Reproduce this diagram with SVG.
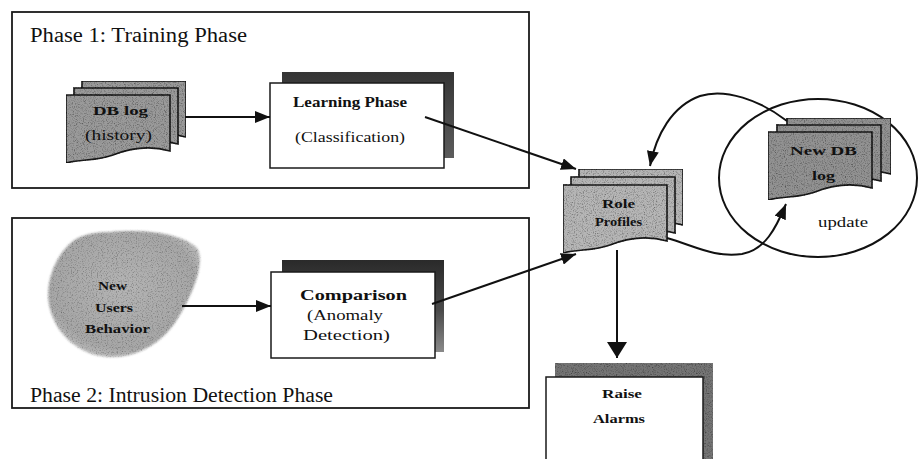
<svg xmlns="http://www.w3.org/2000/svg" xmlns:xlink="http://www.w3.org/1999/xlink" width="918" height="459" viewBox="0 0 918 459">
  <style>
    text { font-family: "Liberation Serif", "Times New Roman", serif; fill: #111; }
    .ph { font-size: 20px; }
    .lb { font-size: 15px; font-weight: bold; }
    .rg { font-size: 15px; }
    .sb { font-size: 13px; font-weight: bold; }
    .frame { fill: none; stroke: #1a1a1a; stroke-width: 1.8; }
    .card { fill: #ffffff; stroke: #1a1a1a; stroke-width: 1.5; }
    .doc { stroke: #1a1a1a; stroke-width: 1.6; }
    .docA { fill: #9a9a9a; }
    .docB { fill: #b6b6b6; }
    .docC { fill: #929292; }
    .wire { fill: none; stroke: #111; stroke-width: 2; }
  </style>
  <defs>
    <!-- paper-like stipple laid over grey fills -->
    <filter id="grain" x="0" y="0" width="100%" height="100%">
      <feTurbulence type="fractalNoise" baseFrequency="0.9" numOctaves="2" seed="4" result="n"/>
      <feColorMatrix in="n" type="matrix" values="0 0 0 0 0  0 0 0 0 0  0 0 0 0 0  1.8 0 0 0 -0.85" result="dots"/>
      <feComposite in="dots" in2="SourceGraphic" operator="in" result="d2"/>
      <feMerge><feMergeNode in="SourceGraphic"/><feMergeNode in="d2"/></feMerge>
    </filter>
    <!-- soft speckled edge for the behaviour blob -->
    <filter id="soft" x="-5%" y="-5%" width="110%" height="110%">
      <feGaussianBlur in="SourceGraphic" stdDeviation="1.2" result="b"/>
      <feTurbulence type="fractalNoise" baseFrequency="0.8" numOctaves="2" seed="9" result="n"/>
      <feColorMatrix in="n" type="matrix" values="0 0 0 0 0  0 0 0 0 0  0 0 0 0 0  1.6 0 0 0 -0.8" result="dots"/>
      <feComposite in="dots" in2="b" operator="in" result="d2"/>
      <feMerge><feMergeNode in="b"/><feMergeNode in="d2"/></feMerge>
    </filter>
    <!-- document sheet with wavy bottom edge -->
    <path id="sheet" d="M0,0 H104 V56 C83,50 62,54 47,60 C31,66 16,64 0,68 Z"/>
    <linearGradient id="shadeL" x1="0" y1="0" x2="0" y2="1">
      <stop offset="0" stop-color="#353535"/>
      <stop offset="1" stop-color="#5c5c5c"/>
    </linearGradient>
    <linearGradient id="shadeC" x1="0" y1="0" x2="0" y2="1">
      <stop offset="0" stop-color="#2a2a2a"/>
      <stop offset="0.55" stop-color="#4a4a4a"/>
      <stop offset="1" stop-color="#8a8a8a"/>
    </linearGradient>
    <radialGradient id="blobFill" cx="0.5" cy="0.45" r="0.6">
      <stop offset="0" stop-color="#b4b4b4"/>
      <stop offset="0.8" stop-color="#a6a6a6"/>
      <stop offset="1" stop-color="#c0c0c0"/>
    </radialGradient>
    <marker id="ah" viewBox="0 0 15 12" refX="15" refY="6" markerWidth="15" markerHeight="12" markerUnits="userSpaceOnUse" orient="auto">
      <path d="M0,0 L15,6 L0,12 Z" fill="#111"/>
    </marker>
    <marker id="ahBig" viewBox="0 0 16 20" refX="16" refY="10" markerWidth="16" markerHeight="20" markerUnits="userSpaceOnUse" orient="auto">
      <path d="M0,0 L16,10 L0,20 Z" fill="#111"/>
    </marker>
  </defs>

  <rect width="918" height="459" fill="#ffffff"/>

  <!-- phase frames -->
  <g id="phase1">
    <rect class="frame" x="12" y="12" width="517" height="176"/>
    <text class="ph" x="30" y="42" textLength="217" lengthAdjust="spacingAndGlyphs">Phase 1: Training Phase</text>
  </g>
  <g id="phase2">
    <rect class="frame" x="12" y="218" width="517" height="190"/>
    <text class="ph" x="30" y="402" textLength="303" lengthAdjust="spacingAndGlyphs">Phase 2: Intrusion Detection Phase</text>
  </g>

  <!-- DB log (history) stack -->
  <g id="db-log">
    <g filter="url(#grain)">
      <use href="#sheet" class="doc docA" x="82" y="81"/>
      <use href="#sheet" class="doc docA" x="74" y="88"/>
      <use href="#sheet" class="doc docA" x="66" y="95"/>
    </g>
    <text class="sb" x="93" y="115" textLength="55" lengthAdjust="spacingAndGlyphs">DB log</text>
    <text class="rg" x="85" y="140" textLength="67" lengthAdjust="spacingAndGlyphs">(history)</text>
  </g>

  <!-- Learning Phase -->
  <g id="learning-phase">
    <rect x="282" y="72" width="172" height="86" fill="url(#shadeL)"/>
    <rect class="card" x="270" y="83" width="174" height="85"/>
    <text class="lb" x="293" y="107" textLength="114" lengthAdjust="spacingAndGlyphs">Learning Phase</text>
    <text class="rg" x="295" y="142" textLength="110" lengthAdjust="spacingAndGlyphs">(Classification)</text>
  </g>

  <!-- New Users Behavior -->
  <g id="new-users-behavior">
    <path d="M110,232 C140,229 180,232 197,248 C206,262 192,296 178,318 C165,340 140,358 110,357 C80,356 55,335 49,305 C44,275 62,245 80,237 C90,233 100,232 110,232 Z" fill="url(#blobFill)" filter="url(#soft)"/>
    <text class="sb" x="98" y="290" textLength="29" lengthAdjust="spacingAndGlyphs">New</text>
    <text class="sb" x="95" y="312" textLength="38" lengthAdjust="spacingAndGlyphs">Users</text>
    <text class="sb" x="85" y="333" textLength="65" lengthAdjust="spacingAndGlyphs">Behavior</text>
  </g>

  <!-- Comparison -->
  <g id="comparison">
    <rect x="282" y="260" width="162" height="92" fill="url(#shadeC)"/>
    <rect class="card" x="271" y="272" width="164" height="86"/>
    <text class="lb" x="300" y="300" textLength="107" lengthAdjust="spacingAndGlyphs">Comparison</text>
    <text class="rg" x="307" y="320" textLength="76" lengthAdjust="spacingAndGlyphs">(Anomaly</text>
    <text class="rg" x="303" y="340" textLength="87" lengthAdjust="spacingAndGlyphs">Detection)</text>
  </g>

  <!-- update loop -->
  <g id="update-loop">
    <ellipse cx="818" cy="178" rx="99" ry="79" fill="none" stroke="#111" stroke-width="2"/>
    <text class="rg" x="818" y="227" textLength="50" lengthAdjust="spacingAndGlyphs">update</text>
  </g>

  <!-- New DB log stack -->
  <g id="new-db-log">
    <g filter="url(#grain)">
      <use href="#sheet" class="doc docC" x="787" y="118"/>
      <use href="#sheet" class="doc docC" x="777" y="125"/>
      <use href="#sheet" class="doc docC" x="768" y="132"/>
    </g>
    <text class="sb" x="790" y="155" textLength="67" lengthAdjust="spacingAndGlyphs">New DB</text>
    <text class="sb" x="812" y="180" textLength="23" lengthAdjust="spacingAndGlyphs">log</text>
  </g>

  <!-- Role Profiles stack -->
  <g id="role-profiles">
    <g filter="url(#grain)">
      <use href="#sheet" class="doc docB" x="579" y="169"/>
      <use href="#sheet" class="doc docB" x="571" y="177"/>
      <use href="#sheet" class="doc docB" x="563" y="185"/>
    </g>
    <text class="sb" x="602" y="208" textLength="33" lengthAdjust="spacingAndGlyphs">Role</text>
    <text class="sb" x="595" y="226" textLength="47" lengthAdjust="spacingAndGlyphs">Profiles</text>
  </g>

  <!-- Raise Alarms -->
  <g id="raise-alarms">
    <rect x="555" y="363" width="158" height="110" fill="#747474" filter="url(#grain)"/>
    <rect class="card" x="546" y="377" width="157" height="95"/>
    <text class="sb" x="602" y="398" textLength="40" lengthAdjust="spacingAndGlyphs">Raise</text>
    <text class="sb" x="593" y="423" textLength="52" lengthAdjust="spacingAndGlyphs">Alarms</text>
  </g>

  <!-- connectors -->
  <g id="connectors">
    <path class="wire" d="M185,117 H270" marker-end="url(#ah)"/>
    <path class="wire" d="M182,306 H271" stroke-width="2.6" marker-end="url(#ah)"/>
    <path class="wire" d="M425,117 L576,169" marker-end="url(#ah)"/>
    <path class="wire" d="M432,304 L576,254" marker-end="url(#ah)"/>
    <path class="wire" d="M617,250 V358" marker-end="url(#ahBig)"/>
    <path class="wire" stroke-width="2.2" d="M787,121 C760,100 725,88 700,96 C672,106 656,135 650,166" marker-end="url(#ah)"/>
    <path class="wire" stroke-width="2.2" d="M667,238 C695,246 715,258 742,254 C765,250 776,228 786,204" marker-end="url(#ah)"/>
  </g>
</svg>
